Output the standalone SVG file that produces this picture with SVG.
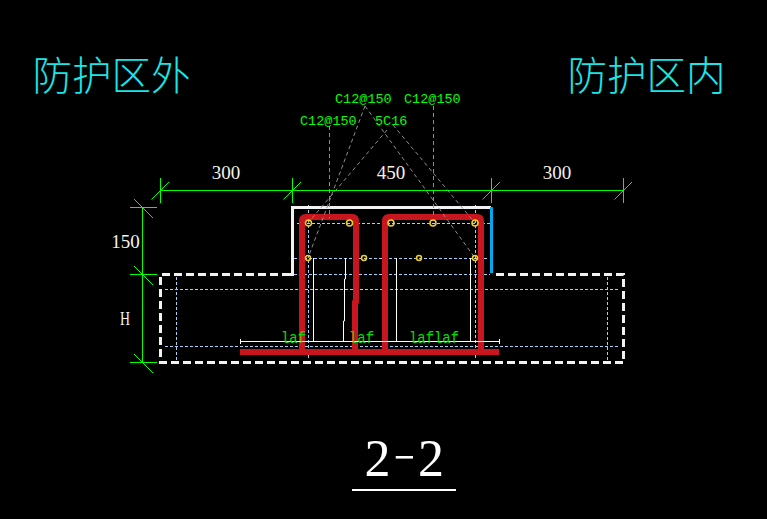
<svg xmlns="http://www.w3.org/2000/svg" width="767" height="519" viewBox="0 0 767 519">
<style>
.dim{stroke:#00ff00;stroke-width:1;fill:none}
.tick{stroke:#00ff00;stroke-width:1;fill:none}
.blue{stroke:#a8d0f5;stroke-width:1;stroke-dasharray:3 2;fill:none}
.lead{stroke:#8c8c8c;stroke-width:1;stroke-dasharray:4 3;fill:none}
.wall{stroke:#f2f2f2;stroke-width:3;fill:none}
.conc{stroke:#f2f2f2;stroke-width:3;stroke-dasharray:8 4;fill:none}
.thin{stroke:#fff;stroke-width:1;fill:none}
.bar{stroke:#c8161e;stroke-width:6;fill:none;stroke-linejoin:round}
.ring{stroke:#f0d020;stroke-width:1.5;fill:none}
.zone{font-family:"Noto Sans CJK SC",sans-serif;font-size:39.500px;fill:#19e6e6;font-weight:300}
.code{font-family:"Liberation Mono",monospace;font-size:13.500px;fill:#00ff00}
.laf{font-family:"Liberation Mono",monospace;font-size:17px;fill:#00e000}
.lbl{font-family:"Liberation Serif",serif;font-size:19px;fill:#f5f2ea}
</style>
<rect width="767" height="519" fill="#000"/>
<g id="zone-labels">
<text class="zone" x="32.500" y="90">防护区外</text>
<text class="zone" x="567.500" y="90">防护区内</text>
</g>
<g id="guides">
<path class="blue" d="M297 223.500H490M294 258.500H488M165 289.500H620M165 346.500H620M308.500 205V360M475.500 205V360M176.500 277V361M607.500 277V361M294 274.500H490"/>
</g>
<g id="section-outline">
<path class="conc" d="M290 274.500H160.500V362.500H623.500V274.500H494"/>
<path class="wall" d="M283 274.500H292.500V207.500H491"/>
<path d="M491.500 207V273" stroke="#00a8ec" stroke-width="3" fill="none"/>
</g>
<g id="rebar">
<path class="bar" d="M302 349V221Q302 217 306 217H352Q356 217 356 221V302H355V352"/>
<path class="bar" d="M385 349V221Q385 217 389 217H477Q481 217 481 221V349"/>
<path class="bar" d="M240 352H499"/>
</g>
<g id="connectors">
<path class="lead" d="M329.500 126V218M433.500 106V218M365 106L308 258M365 106L475 258M387 130L308 223M393 125L475 223"/>
<path class="thin" d="M240.500 339V344M240.500 341.500H499.500M499.500 339V344M313.500 258V341.500M345.500 258V279H344.500V321H343.500V341.500M396.500 258V341.500M470.500 258V341.500"/>
</g>
<g id="bars-top">
<circle class="ring" cx="308.500" cy="223" r="3"/><circle class="ring" cx="349.500" cy="223" r="3"/><circle class="ring" cx="391" cy="223" r="3"/><circle class="ring" cx="433" cy="223" r="3"/><circle class="ring" cx="475" cy="223" r="3"/>
</g>
<g id="bars-bottom">
<circle class="ring" cx="308" cy="258" r="2.500"/><circle class="ring" cx="364" cy="258" r="2.500"/><circle class="ring" cx="419" cy="258" r="2.500"/><circle class="ring" cx="475" cy="258" r="2.500"/>
</g>
<g id="dimensions">
<path class="dim" d="M160 190.500H624M160.500 178V203M292.500 178V203M491.500 178V203M623.500 178V203M142.500 207V362M130 207.500H157M130 274.500H157M130 362.500H157"/>
<path class="tick" d="M151.500 199.500L169 182M283.500 199.500L301 182M482.500 199.500L500 182M614.500 199.500L632 182M134 199L153 218M134 266L153 285M134 354L153 373"/>
<text class="lbl" x="226" y="179" text-anchor="middle">300</text>
<text class="lbl" x="391" y="179" text-anchor="middle">450</text>
<text class="lbl" x="557" y="179" text-anchor="middle">300</text>
<text class="lbl" x="125.500" y="248" text-anchor="middle">150</text>
<text class="lbl" x="120" y="325" textLength="10" lengthAdjust="spacingAndGlyphs">H</text>
</g>
<g id="rebar-labels">
<text class="code" x="335" y="103">C12@150</text>
<text class="code" x="404" y="103">C12@150</text>
<text class="code" x="300" y="125">C12@150</text>
<text class="code" x="375" y="125">5C16</text>
<text class="laf" x="281" y="343" textLength="25" lengthAdjust="spacingAndGlyphs">laf</text>
<text class="laf" x="349" y="343" textLength="25" lengthAdjust="spacingAndGlyphs">laf</text>
<text class="laf" x="409" y="343" textLength="50" lengthAdjust="spacingAndGlyphs">laflaf</text>
</g>
<g id="title">
<text x="364.500" y="475.500" font-family="Liberation Serif, serif" font-size="52" fill="#fff">2<tspan x="391" dy="0" font-family="Inter, sans-serif" font-weight="200" font-size="60">-</tspan><tspan x="418" font-family="Liberation Serif, serif">2</tspan></text>
<path d="M352 490H456" stroke="#fff" stroke-width="2"/>
</g>
</svg>
